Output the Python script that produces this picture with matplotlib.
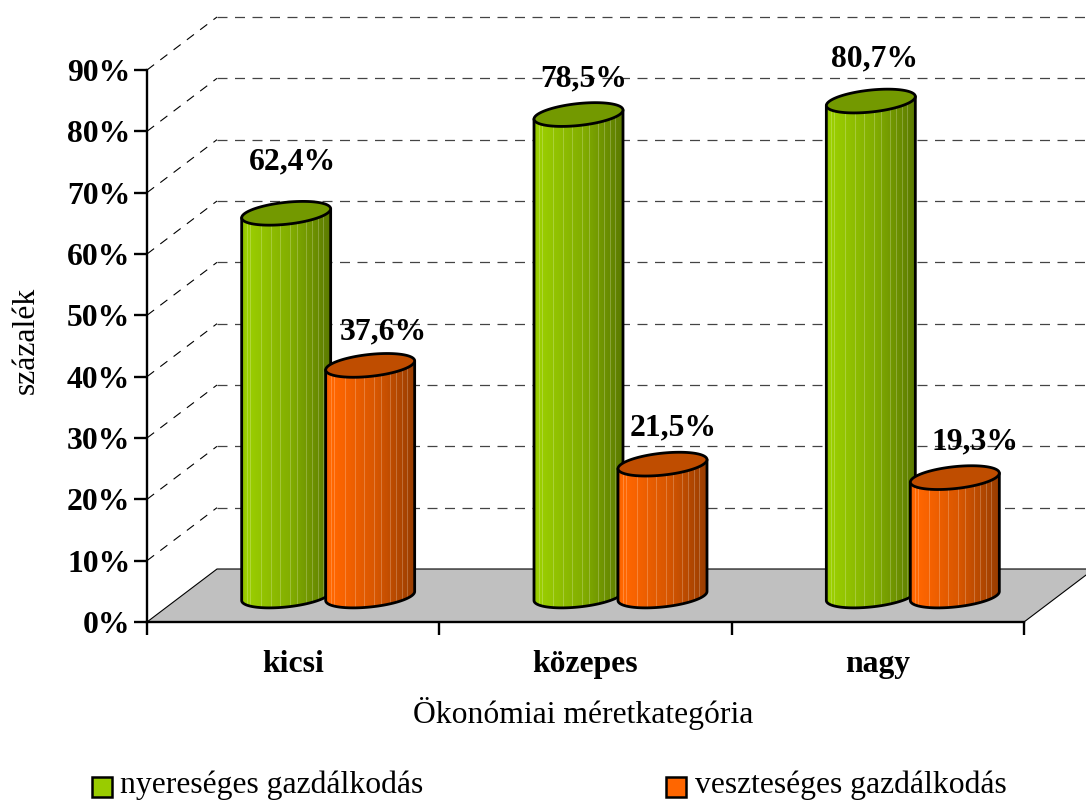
import numpy as np
import matplotlib

matplotlib.use('Agg')

import matplotlib.pyplot as plt
from matplotlib.colors import to_rgb
from matplotlib.patches import Polygon, Rectangle

categories = ['kicsi', 'közepes', 'nagy']
series_names = ['nyereséges gazdálkodás', 'veszteséges gazdálkodás']
profitable = [62.4, 78.5, 80.7]
lossmaking = [37.6, 21.5, 19.3]
y_ticks = [0, 10, 20, 30, 40, 50, 60, 70, 80, 90]
y_tick_labels = ['0%', '10%', '20%', '30%', '40%', '50%', '60%', '70%', '80%', '90%']

GREEN = '#99CC00'
ORANGE = '#FF6600'
W, H = 1086, 800

plt.rcParams['font.family'] = ['Liberation Serif', 'DejaVu Serif']
plt.rcParams['font.size'] = 22.8

fig = plt.figure(figsize=(W / 100, H / 100), dpi=100)
# front plane of the fake 3D box
ax = fig.add_axes([147 / W, 1 - 622 / H, 877 / W, 552 / H])
ax.patch.set_visible(False)
PX_X = 877 / 3
PX_Y = 552 / 90
DEPTH_X = 70 / PX_X
DEPTH_Y = 53 / PX_Y

# stripes seen on the cylinders, as fractions of the width
STRIPES = [0.06, 0.09, 0.22, 0.33, 0.43, 0.54, 0.62, 0.72, 0.79, 0.86, 0.92]


def body_colors(color):
    base = np.array(to_rgb(color))
    n = 89
    shade = np.interp(np.linspace(0, 1, n), [0, 0.04, 0.55, 1], [0.92, 1.02, 0.85, 0.6])
    img = np.clip(base[None, :] * shade[:, None], 0, 1)
    for s in STRIPES:
        i = int(s * n)
        img[i] = img[i] + (1 - img[i]) * 0.22
    return img[None, :, :]


def ellipse_y(t):
    return (4.5 * np.cos(t) + 11 * np.sin(t)) / PX_Y


def draw_cylinder(cx, value, color, z):
    a = 44.5 / PX_X
    base = 26 / PX_Y
    top = base + value
    t_front = np.linspace(np.pi, 2 * np.pi, 60)
    xs = cx + a * np.cos(t_front)
    low = base + ellipse_y(t_front)
    outline = np.column_stack([np.r_[xs, xs[-1], xs[0]],
                               np.r_[low, top + ellipse_y(2 * np.pi), top + ellipse_y(np.pi)]])
    body = Polygon(outline, closed=True, facecolor='none', edgecolor='black', lw=2.0,
                   zorder=z + 0.2, clip_on=False, joinstyle='round')
    ax.add_patch(body)
    im = ax.imshow(body_colors(color), extent=[cx - a, cx + a, 0, top + 3], aspect='auto',
                   interpolation='bilinear', zorder=z, origin='lower')
    im.set_clip_path(body)
    t = np.linspace(0, 2 * np.pi, 90)
    cap = np.column_stack([cx + a * np.cos(t), top + ellipse_y(t)])
    ax.add_patch(Polygon(cap, closed=True, facecolor=np.array(to_rgb(color)) * 0.75,
                         edgecolor='black', lw=2.0, zorder=z + 0.3, clip_on=False))


# back wall and side wall gridlines
for v in y_ticks[1:]:
    ax.plot([0, DEPTH_X], [v, v + DEPTH_Y], color='black', lw=0.8, dashes=(8, 7),
            zorder=1, clip_on=False)
    ax.plot([DEPTH_X, 3 + DEPTH_X], [v + DEPTH_Y, v + DEPTH_Y], color='#444444', lw=0.9,
            dashes=(8, 6), zorder=1, clip_on=False)

# floor
floor = [(0, 0), (DEPTH_X, DEPTH_Y), (3 + DEPTH_X, DEPTH_Y), (3, 0)]
ax.add_patch(Polygon(floor, closed=True, facecolor='#C0C0C0', edgecolor='black', lw=0.8,
                     zorder=2, clip_on=False))

centers = np.arange(len(categories)) + 0.5
bar_step = 42 / PX_X
zorder = 3
for c, p, l in zip(centers, profitable, lossmaking):
    mid = c + DEPTH_X / 2
    draw_cylinder(mid - bar_step, p, GREEN, zorder)
    draw_cylinder(mid + bar_step, l, ORANGE, zorder + 1)
    zorder += 2

# label nudges in pixels from the centre of each cap (x, up)
nudge_p = [(6, 51), (5, 36), (4, 42)]
nudge_l = [(13, 33), (11, 36), (20, 36)]
for c, p, l, np_, nl in zip(centers, profitable, lossmaking, nudge_p, nudge_l):
    mid = c + DEPTH_X / 2
    for x0, v, n in [(mid - bar_step, p, np_), (mid + bar_step, l, nl)]:
        ax.text(x0 + n[0] / PX_X, 26 / PX_Y + v + n[1] / PX_Y,
                f'{v:.1f}%'.replace('.', ','), ha='center', va='center',
                fontweight='bold', zorder=20, clip_on=False)

ax.set_xlim(0, 3)
ax.set_ylim(0, 90)
ax.spines['top'].set_visible(False)
ax.spines['right'].set_visible(False)
ax.spines['left'].set_linewidth(1.7)
ax.spines['bottom'].set_linewidth(1.7)
ax.spines['left'].set_zorder(15)
ax.spines['bottom'].set_zorder(15)

ax.set_yticks(y_ticks, labels=y_tick_labels, fontweight='bold')
ax.set_xticks([0, 1, 2, 3], labels=[])
ax.set_xticks(centers, labels=categories, minor=True, fontweight='bold')
ax.tick_params(axis='both', which='major', length=9.4, width=1.7)
ax.tick_params(axis='y', pad=2.5)
ax.tick_params(axis='x', which='minor', length=0, pad=20)

ax.set_xlabel('Ökonómiai méretkategória', labelpad=0)
ax.xaxis.set_label_coords(436 / 877, -(714 - 622) / 552)
ax.xaxis.label.set_va('center')
ax.set_ylabel('százalék')
ax.yaxis.set_label_coords(-(147 - 26) / 877, (622 - 340) / 552)
ax.yaxis.label.set_va('center')

# legend
for name, color, sx, tx in zip(series_names, [GREEN, ORANGE], [92, 666], [120, 695]):
    fig.add_artist(Rectangle((sx / W, 1 - 797 / H), 20 / W, 20 / H, transform=fig.transFigure,
                             facecolor=color, edgecolor='black', lw=1.8))
    fig.text(tx / W, 1 - 793 / H, name, ha='left', va='baseline')

fig.savefig('out.png', dpi=100)
plt.close(fig)
